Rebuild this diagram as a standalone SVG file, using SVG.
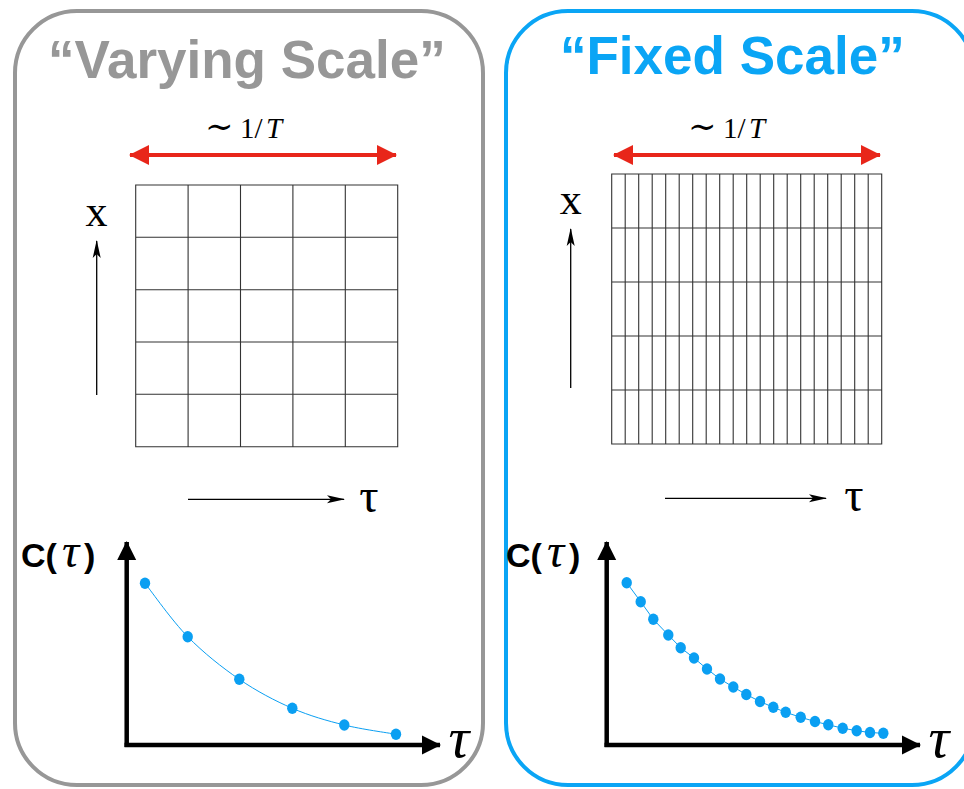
<svg xmlns="http://www.w3.org/2000/svg" width="964" height="789" viewBox="0 0 964 789">
<style>
.title{font-family:"Liberation Sans",Arial,sans-serif;font-weight:bold;font-size:53px}
.serif{font-family:"Liberation Serif","DejaVu Serif",serif}
.sans{font-family:"Liberation Sans",Arial,sans-serif;font-weight:bold}
.grid{fill:none;stroke:#333;stroke-width:1.1}
.thin{stroke:#000;stroke-width:1.3;fill:none}
.red{stroke:#e8261a;stroke-width:4;fill:none}
.axis{stroke:#000;stroke-width:4.5;fill:none}
.fit{stroke:#0a9ff2;stroke-width:1;fill:none}
.dot{fill:#0a9ff2}
</style>
<defs>
<marker id="stealth" viewBox="0 -5 18 10" markerWidth="18" markerHeight="10" refX="17" refY="0" orient="auto" markerUnits="userSpaceOnUse">
<path d="M0,-4 L18,0 L0,4 L4,0 Z" fill="#000"/>
</marker>
<marker id="redhead" viewBox="0 -10 20 20" markerWidth="20" markerHeight="20" refX="19" refY="0" orient="auto-start-reverse" markerUnits="userSpaceOnUse">
<path d="M0,-10 L20,0 L0,10 Z" fill="#e8261a"/>
</marker>
<marker id="axhead" viewBox="0 -10 19 20" markerWidth="19" markerHeight="20" refX="18" refY="0" orient="auto" markerUnits="userSpaceOnUse">
<path d="M0,-9.5 L19,0 L0,9.5 Z" fill="#000"/>
</marker>
</defs>
<rect width="964" height="789" fill="#fff"/>

<g id="varying-panel">
<rect x="15" y="11" width="468" height="774" rx="62" ry="62" fill="none" stroke="#979797" stroke-width="4"/>
<text class="title" x="48" y="78" fill="#979797">“Varying Scale”</text>
<g id="varying-span">
<line class="red" x1="130" y1="155" x2="396" y2="155" marker-start="url(#redhead)" marker-end="url(#redhead)"/>
<text class="serif" y="138" font-size="29"><tspan x="205" font-size="34">∼</tspan><tspan x="240">1/</tspan><tspan x="266" font-style="italic">T</tspan></text>
</g>
<g id="varying-grid">
<path class="grid" d="M135.7,185H397.7V446.7H135.7Z M188.1,185V446.7 M240.5,185V446.7 M292.9,185V446.7 M345.3,185V446.7 M135.7,237.3H397.7 M135.7,289.7H397.7 M135.7,342H397.7 M135.7,394.3H397.7"/>
<text class="serif" x="96.5" y="226" font-size="44" text-anchor="middle">x</text>
<text class="serif" x="369" y="512" font-size="48" text-anchor="middle">τ</text>
</g>
<g id="varying-plot">
<text x="21" y="567" font-size="34"><tspan class="sans">C(</tspan><tspan class="serif" x="62" font-style="italic" font-size="48">τ</tspan><tspan class="sans" x="84">)</tspan></text>
<text class="serif" x="459" y="757" font-size="58" font-style="italic" text-anchor="middle">τ</text>
<path class="fit" d="M145,583.3 C152.1,592.2 172,620.7 187.7,636.7 C203.4,652.7 221.9,667.4 239.3,679.3 C256.7,691.2 274.8,700.7 292.3,708.3 C309.8,715.9 327,720.7 344.3,725 C361.6,729.3 387.4,732.7 396,734.3"/>
<g class="dot">
<ellipse cx="145" cy="583.3" rx="5.2" ry="5.7"/>
<ellipse cx="187.7" cy="636.7" rx="5.2" ry="5.7"/>
<ellipse cx="239.3" cy="679.3" rx="5.2" ry="5.7"/>
<ellipse cx="292.3" cy="708.3" rx="5.2" ry="5.7"/>
<ellipse cx="344.3" cy="725" rx="5.2" ry="5.7"/>
<ellipse cx="396" cy="734.3" rx="5.2" ry="5.7"/>
</g>
</g>
</g>

<g id="fixed-panel">
<rect x="506" y="11" width="468" height="774" rx="62" ry="62" fill="none" stroke="#0aa5f5" stroke-width="4"/>
<text class="title" x="560" y="74" fill="#0aa5f5">“Fixed Scale”</text>
<g id="fixed-span">
<line class="red" x1="614" y1="155" x2="880" y2="155" marker-start="url(#redhead)" marker-end="url(#redhead)"/>
<text class="serif" y="138" font-size="29"><tspan x="688" font-size="34">∼</tspan><tspan x="723">1/</tspan><tspan x="749" font-style="italic">T</tspan></text>
</g>
<g id="fixed-grid">
<path class="grid" d="M611.7,174H881.7V444H611.7Z M625.2,174V444 M638.7,174V444 M652.2,174V444 M665.7,174V444 M679.2,174V444 M692.7,174V444 M706.2,174V444 M719.7,174V444 M733.2,174V444 M746.7,174V444 M760.2,174V444 M773.7,174V444 M787.2,174V444 M800.7,174V444 M814.2,174V444 M827.7,174V444 M841.2,174V444 M854.7,174V444 M868.2,174V444 M611.7,228H881.7 M611.7,282H881.7 M611.7,336H881.7 M611.7,390H881.7"/>
<text class="serif" x="570.7" y="214" font-size="44" text-anchor="middle">x</text>
<text class="serif" x="854" y="511" font-size="48" text-anchor="middle">τ</text>
</g>
<g id="fixed-plot">
<text x="506" y="567" font-size="34"><tspan class="sans">C(</tspan><tspan class="serif" x="547" font-style="italic" font-size="48">τ</tspan><tspan class="sans" x="569">)</tspan></text>
<text class="serif" x="939" y="757" font-size="58" font-style="italic" text-anchor="middle">τ</text>
<polyline class="fit" points="626.7,582.7 640.7,601.7 653.3,619.3 668.3,635 680.7,647.7 694,658 707,669 720,679 733.3,687 746.3,694.5 760,701.5 773.3,707.3 785.7,712.3 800.7,717.3 815,721.5 828.3,724.8 842.7,728.2 856.7,730.7 870,732.5 883.3,733.3"/>
<g class="dot">
<ellipse cx="626.7" cy="582.7" rx="5.2" ry="5.7"/>
<ellipse cx="640.7" cy="601.7" rx="5.2" ry="5.7"/>
<ellipse cx="653.3" cy="619.3" rx="5.2" ry="5.7"/>
<ellipse cx="668.3" cy="635" rx="5.2" ry="5.7"/>
<ellipse cx="680.7" cy="647.7" rx="5.2" ry="5.7"/>
<ellipse cx="694" cy="658" rx="5.2" ry="5.7"/>
<ellipse cx="707" cy="669" rx="5.2" ry="5.7"/>
<ellipse cx="720" cy="679" rx="5.2" ry="5.7"/>
<ellipse cx="733.3" cy="687" rx="5.2" ry="5.7"/>
<ellipse cx="746.3" cy="694.5" rx="5.2" ry="5.7"/>
<ellipse cx="760" cy="701.5" rx="5.2" ry="5.7"/>
<ellipse cx="773.3" cy="707.3" rx="5.2" ry="5.7"/>
<ellipse cx="785.7" cy="712.3" rx="5.2" ry="5.7"/>
<ellipse cx="800.7" cy="717.3" rx="5.2" ry="5.7"/>
<ellipse cx="815" cy="721.5" rx="5.2" ry="5.7"/>
<ellipse cx="828.3" cy="724.8" rx="5.2" ry="5.7"/>
<ellipse cx="842.7" cy="728.2" rx="5.2" ry="5.7"/>
<ellipse cx="856.7" cy="730.7" rx="5.2" ry="5.7"/>
<ellipse cx="870" cy="732.5" rx="5.2" ry="5.7"/>
<ellipse cx="883.3" cy="733.3" rx="5.2" ry="5.7"/>
</g>
</g>
</g>

<g id="connectors">
<line class="thin" x1="96.7" y1="395" x2="96.7" y2="241" marker-end="url(#stealth)"/>
<line class="thin" x1="188" y1="499.3" x2="344" y2="499.3" marker-end="url(#stealth)"/>
<line class="thin" x1="570.7" y1="388" x2="570.7" y2="229" marker-end="url(#stealth)"/>
<line class="thin" x1="665" y1="498.3" x2="826" y2="498.3" marker-end="url(#stealth)"/>
<line class="axis" x1="126.7" y1="747" x2="126.7" y2="542" marker-end="url(#axhead)"/>
<line class="axis" x1="124.5" y1="745" x2="440" y2="745" marker-end="url(#axhead)"/>
<line class="axis" x1="606.7" y1="747" x2="606.7" y2="542" marker-end="url(#axhead)"/>
<line class="axis" x1="604.5" y1="745" x2="920" y2="745" marker-end="url(#axhead)"/>
</g>
</svg>
